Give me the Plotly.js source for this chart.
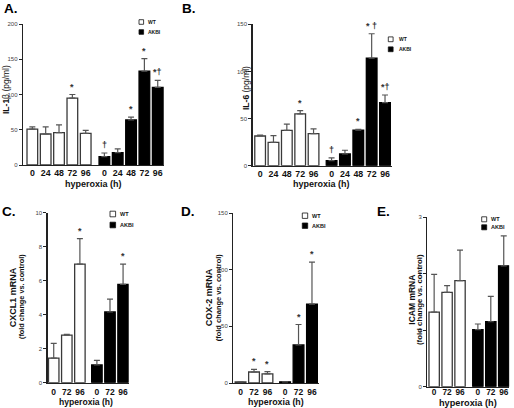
<!DOCTYPE html>
<html><head><meta charset="utf-8">
<script src="https://cdn.plot.ly/plotly-3.0.1.min.js"></script>
<style>html,body{margin:0;padding:0;background:#fff}#chart{width:514px;height:408px}</style>
</head><body><div id="chart"></div>
<script>
// ---------- data ----------
const seriesNames = ['WT', 'AKBI'];
const xTitle = 'hyperoxia (h)';

// Panel A: IL-1β (pg/ml)
const aHours = ['0', '24', '48', '72', '96'];
const aWT = [51, 44, 46, 95, 45];
const aWTErr = [3, 10, 11, 5, 4];
const aWTSig = ['', '', '', '*', ''];
const aAKBI = [12, 17.5, 64, 133, 110];
const aAKBIErr = [5, 5.5, 4, 18, 10];
const aAKBISig = ['†', '', '*', '*', '*†'];

// Panel B: IL-6 (pg/ml)
const bHours = ['0', '24', '48', '72', '96'];
const bWT = [31.5, 24.8, 37.5, 55, 34];
const bWTErr = [1, 7, 6.5, 3.5, 5];
const bWTSig = ['', '', '', '*', ''];
const bAKBI = [5.3, 12.4, 37.8, 114, 67];
const bAKBIErr = [3, 4, 0.7, 26, 8];
const bAKBISig = ['†', '', '*', '* †', '*†'];

// Panel C: CXCL1 mRNA
const cHours = ['0', '72', '96'];
const cWT = [1.45, 2.8, 6.98];
const cWTErr = [0.86, 0.05, 1.5];
const cWTSig = ['', '', '*'];
const cAKBI = [1.04, 4.16, 5.78];
const cAKBIErr = [0.27, 0.76, 1.2];
const cAKBISig = ['', '', '*'];

// Panel D: COX-2 mRNA
const dHours = ['0', '72', '96'];
const dWT = [1, 9.7, 8];
const dWTErr = [0, 2.4, 2];
const dWTSig = ['', '*', '*'];
const dAKBI = [1, 33.6, 69.6];
const dAKBIErr = [0, 18, 37];
const dAKBISig = ['', '*', '*'];

// Panel E: ICAM mRNA
const eHours = ['0', '72', '96'];
const eWT = [1.32, 1.67, 1.88];
const eWTErr = [0.67, 0.12, 0.54];
const eWTSig = ['', '', ''];
const eAKBI = [1.01, 1.15, 2.14];
const eAKBIErr = [0.1, 0.45, 0.53];
const eAKBISig = ['', '', ''];

// ---------- layout geometry (pixels) ----------
const W = 514, H = 408;
const FONT = 'Liberation Sans, Arial, sans-serif';
const fx = v => v / W;
const fy = v => 1 - v / H;

const panels = [
  { letter: 'A.', lx: 1.5, ly: 8, hours: aHours, wt: aWT, wtE: aWTErr, wtS: aWTSig, ak: aAKBI, akE: aAKBIErr, akS: aAKBISig,
    xd: [23, 164], yd: [165, 24], yr: [0, 200], dt: 50, xr: [-0.7, 9.87], gap: 0.4, tf: 8.8, tso: -1,
    yt: [{ t: '<b>IL-1</b>β (pg/ml)', x: 6, s: 8.5 }], yty: 90, xtx: 93.5, xty: 184, xts: 9,
    leg: { x: 139, w: 4.6, y: [22, 32], tx: 145.7, s: 5 } },
  { letter: 'B.', lx: 180, ly: 8, hours: bHours, wt: bWT, wtE: bWTErr, wtS: bWTSig, ak: bAKBI, akE: bAKBIErr, akS: bAKBISig,
    xd: [252.5, 391.7], yd: [165.7, 24.3], yr: [0, 150], dt: 50, xr: [-0.57, 9.85], gap: 0.35, tf: 8.8, tso: -1,
    yt: [{ t: '<b>IL-6</b> (pg/ml)', x: 246, s: 8.5 }], yty: 88, xtx: 321, xty: 184, xts: 9,
    leg: { x: 388.3, w: 4.8, y: [39.3, 49.3], tx: 396.5, s: 5 } },
  { letter: 'C.', lx: 0, ly: 211, hours: cHours, wt: cWT, wtE: cWTErr, wtS: cWTSig, ak: cAKBI, akE: cAKBIErr, akS: cAKBISig,
    xd: [47.7, 128.7], yd: [382.7, 212.7], yr: [0, 10], dt: 2, xr: [-0.46, 5.73], gap: 0.3, tf: 8.5, tso: 1,
    yt: [{ t: '<b>CXCL1 mRNA</b>', x: 13.3, s: 9 }, { t: '<b>(fold change vs. control)</b>', x: 21, s: 7.3 }], yty: 297,
    xtx: 86, xty: 401.7, xts: 8.6,
    leg: { x: 110, w: 5.6, y: [214, 225], tx: 118, s: 5.5 } },
  { letter: 'D.', lx: 179.3, ly: 211, hours: dHours, wt: dWT, wtE: dWTErr, wtS: dWTSig, ak: dAKBI, akE: dAKBIErr, akS: dAKBISig,
    xd: [233.3, 318.7], yd: [383, 213], yr: [0, 150], dt: 50, xr: [-0.54, 5.81], gap: 0.31, tf: 8.5, tso: 0,
    yt: [{ t: '<b>COX-2 mRNA</b>', x: 209.3, s: 9 }, { t: '<b>(fold change vs. control)</b>', x: 218.3, s: 7.5 }], yty: 297,
    xtx: 276, xty: 401.7, xts: 8.9,
    leg: { x: 302.3, w: 5.4, y: [215.7, 225.7], tx: 310, s: 5.5 } },
  { letter: 'E.', lx: 375, ly: 211, hours: eHours, wt: eWT, wtE: eWTErr, wtS: eWTSig, ak: eAKBI, akE: eAKBIErr, akS: eAKBISig,
    xd: [427.3, 509.3], yd: [386.7, 217.3], yr: [0, 3], dt: 1, xr: [-0.53, 5.81], gap: 0.38, tf: 8.3, tso: -3,
    yt: [{ t: '<b>ICAM mRNA</b>', x: 411.7, s: 8.5 }, { t: '<b>(fold change vs. control)</b>', x: 419, s: 7.8 }], yty: 300,
    xtx: 468, xty: 402.8, xts: 9.2,
    leg: { x: 481.7, w: 5, y: [219.3, 227.3], tx: 489, s: 5.5 } }
];

const seriesFill = ['#ffffff', '#000000'];
const seriesLine = ['#3a3a3a', '#000000'];

const traces = [], annotations = [], shapes = [];
const layout = {
  width: W, height: H, margin: { l: 0, r: 0, t: 0, b: 0 },
  paper_bgcolor: '#fff', plot_bgcolor: 'rgba(0,0,0,0)',
  showlegend: false, bargap: 0, font: { family: FONT, color: '#111' }
};

panels.forEach((p, k) => {
  const sfx = k === 0 ? '' : String(k + 1);
  const xa = 'x' + sfx, ya = 'y' + sfx;
  const n = p.hours.length;
  const posWT = p.hours.map((_, i) => i);
  const posAK = p.hours.map((_, i) => n + p.gap + i);
  const groups = [
    { pos: posWT, v: p.wt, e: p.wtE, s: p.wtS },
    { pos: posAK, v: p.ak, e: p.akE, s: p.akS }
  ];
  groups.forEach((g, si) => {
    traces.push({
      type: 'bar', x: g.pos, y: g.v, xaxis: xa, yaxis: ya, width: 0.8, name: seriesNames[si],
      marker: { color: seriesFill[si], line: { color: seriesLine[si], width: 1.3 } },
      error_y: { type: 'data', symmetric: false, array: g.e, arrayminus: g.e.map(() => 0),
                 color: '#555', thickness: 1.2, width: 3 },
      hoverinfo: 'skip'
    });
    g.s.forEach((txt, i) => {
      if (!txt) return;
      annotations.push({ xref: xa, yref: ya, x: g.pos[i], y: g.v[i] + g.e[i], text: '<b>' + txt + '</b>',
        showarrow: false, yanchor: 'bottom', yshift: 1, font: { size: 9, color: '#333', family: FONT } });
    });
  });
  layout['xaxis' + sfx] = {
    domain: [fx(p.xd[0]), fx(p.xd[1])], anchor: ya, range: p.xr, fixedrange: true,
    tickvals: posWT.concat(posAK), ticktext: p.hours.concat(p.hours), ticks: '',
    ticklabelstandoff: p.tso,
    tickfont: { size: p.tf, family: FONT, color: '#111', weight: 'bold' },
    showline: true, linecolor: '#222', linewidth: 1.3, showgrid: false, zeroline: false
  };
  layout['yaxis' + sfx] = {
    domain: [fy(p.yd[0]), fy(p.yd[1])], anchor: xa, range: p.yr, dtick: p.dt, tick0: 0,
    ticks: 'outside', ticklen: 3, tickwidth: 1, tickcolor: '#222',
    tickfont: { size: 6, family: FONT, color: '#444' },
    showline: true, linecolor: '#222', linewidth: 1.3, showgrid: false, zeroline: false
  };
  // panel letter
  annotations.push({ xref: 'paper', yref: 'paper', x: fx(p.lx), y: fy(p.ly), xanchor: 'left', yanchor: 'middle',
    text: '<b>' + p.letter + '</b>', showarrow: false, font: { size: 13.5, family: FONT, color: '#000' } });
  // y title lines
  p.yt.forEach(t => {
    annotations.push({ xref: 'paper', yref: 'paper', x: fx(t.x), y: fy(p.yty), xanchor: 'center', yanchor: 'middle',
      text: t.t, textangle: -90, showarrow: false, font: { size: t.s, family: FONT, color: '#111' } });
  });
  // x title
  annotations.push({ xref: 'paper', yref: 'paper', x: fx(p.xtx), y: fy(p.xty), xanchor: 'center', yanchor: 'middle',
    text: '<b>' + xTitle + '</b>', showarrow: false, font: { size: p.xts, family: FONT, color: '#111' } });
  // legend
  seriesNames.forEach((nm, si) => {
    const cy = p.leg.y[si], w = p.leg.w;
    shapes.push({ type: 'rect', xref: 'paper', yref: 'paper', x0: fx(p.leg.x), x1: fx(p.leg.x + w),
      y0: fy(cy + w / 2), y1: fy(cy - w / 2), fillcolor: seriesFill[si], line: { color: '#111', width: 0.8 } });
    annotations.push({ xref: 'paper', yref: 'paper', x: fx(p.leg.tx), y: fy(cy), xanchor: 'left', yanchor: 'middle',
      text: '<b>' + nm + '</b>', showarrow: false, font: { size: p.leg.s, family: FONT, color: '#111' } });
  });
});

layout.annotations = annotations;
layout.shapes = shapes;
Plotly.newPlot('chart', traces, layout, { displayModeBar: false, staticPlot: true });
</script>
</body></html>
